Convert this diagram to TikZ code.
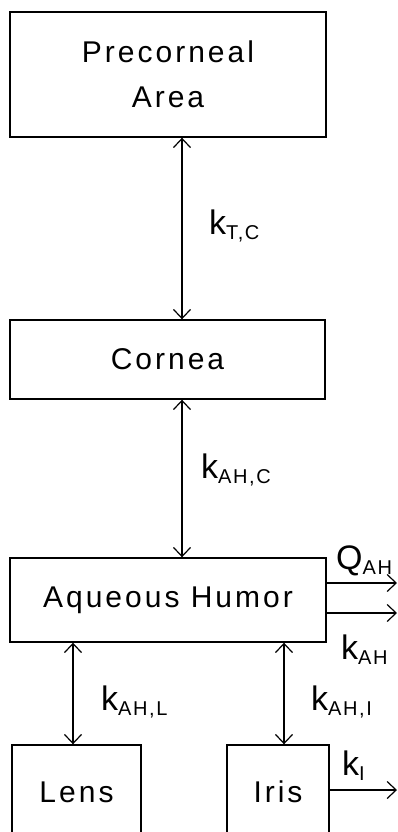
\documentclass[tikz,border=0pt]{standalone}
\usepackage{fontspec}
\setmainfont[LetterSpace=10]{Liberation Sans}
\newfontfamily\labfont{Liberation Sans}
\newfontfamily\subfont[LetterSpace=8]{Liberation Sans}
\usetikzlibrary{arrows.meta}
\newcommand\klab[2]{#1\raisebox{-5pt}{\subfont\fontsize{20}{22}\selectfont #2}}
\begin{document}
\begin{tikzpicture}[x=1pt,y=-1pt,
  box/.style={draw, line width=1.4pt, inner sep=0pt, align=center,
    font=\fontsize{30}{45}\selectfont},
  conn/.style={line width=1.2pt, {Straight Barb[length=9pt,width=17pt]}-{Straight Barb[length=9pt,width=17pt]}},
  outarr/.style={line width=1.2pt, -{Straight Barb[length=9pt,width=17pt]}},
  lab/.style={inner sep=0pt, font=\labfont\fontsize{34}{38}\selectfont}]
\useasboundingbox (0,0) rectangle (398,832);
\clip (0,0) rectangle (398,832);
\fill[white] (0,0) rectangle (398,832);
\node[box, minimum width=316pt, minimum height=125pt] (pre) at (168,74.5) {Precorneal\\Area};
\node[box, minimum width=315pt, minimum height=79pt] (cor) at (167.5,359.5) {Cornea};
\node[box, minimum width=316pt, minimum height=84pt] (ah) at (168,600) {Aqueous Humor};
\node[box, minimum width=129pt, minimum height=94pt] (lens) at (76.5,792) {Lens};
\node[box, minimum width=102pt, minimum height=94pt] (iris) at (278,792) {Iris};
\coordinate (cx) at (182,0);
\coordinate (lx) at (73,0);
\coordinate (ix) at (284,0);
\coordinate (qend) at (397,583);
\coordinate (kend) at (397,613);
\coordinate (iend) at (397,790);
\draw[conn] (pre.south -| cx) -- (cor.north -| cx);
\draw[conn] (cor.south -| cx) -- (ah.north -| cx);
\draw[conn] (ah.south -| lx) -- (lens.north -| lx);
\draw[conn] (ah.south -| ix) -- (iris.north -| ix);
\draw[outarr] (ah.east |- qend) -- (qend);
\draw[outarr] (ah.east |- kend) -- (kend);
\draw[outarr] (iris.east |- iend) -- (iend);
\node[lab, anchor=west] (ktc) at (209,226) {\klab{k}{T,C}};
\node[lab, anchor=west] (kahc) at (201,470) {\klab{k}{AH,C}};
\node[lab, anchor=west] (qah) at (336,561) {\klab{Q}{AH}};
\node[lab, anchor=west] (kah) at (341,650) {\klab{k}{AH}};
\node[lab, anchor=west] (kahl) at (101,702) {\klab{k}{AH,L}};
\node[lab, anchor=west] (kahi) at (311,702) {\klab{k}{AH,I}};
\node[lab, anchor=west] (ki) at (342,766) {\klab{k}{I}};
\end{tikzpicture}
\end{document}
